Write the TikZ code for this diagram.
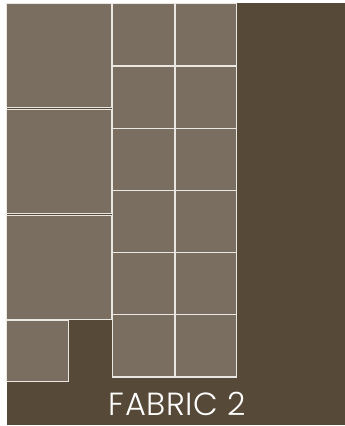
\documentclass[tikz,border=0pt]{standalone}
\usepackage{fontspec}
\newfontfamily\labelfont{Poppins}[UprightFont=* Light]
\definecolor{bgdark}{HTML}{574937}
\definecolor{tile}{HTML}{7A6E60}
\definecolor{edge}{HTML}{EAE6E1}
\begin{document}
\begin{tikzpicture}[x=1pt,y=-1pt,
  tilebox/.style={fill=tile,draw=edge,line width=1.2pt}]
\useasboundingbox (0,0) rectangle (345,426);
\fill[white] (0,0) rectangle (345,426);
\fill[bgdark] (6.5,3.2) rectangle (345,425);
% left column
\path[tilebox] (6.8,3.8) rectangle (111.3,107.6);
\path[tilebox] (6.8,109.2) rectangle (111.3,213.8);
\path[tilebox] (6.8,215.4) rectangle (111.3,319.2);
\path[tilebox] (6.8,320.6) rectangle (68.8,381.8);
% grid
\foreach \r in {0,...,5}{
  \path[tilebox] (112.3,3.8+62.2*\r) rectangle (174.3,3.8+62.2*\r+62.2);
  \path[tilebox] (174.9,3.8+62.2*\r) rectangle (236.7,3.8+62.2*\r+62.2);
}
\node[text=white,inner sep=0pt,anchor=base] (label) at (177.5,415)
  {\labelfont\fontsize{32}{32}\selectfont\addfontfeature{LetterSpace=2} FABRIC 2};
\end{tikzpicture}
\end{document}
